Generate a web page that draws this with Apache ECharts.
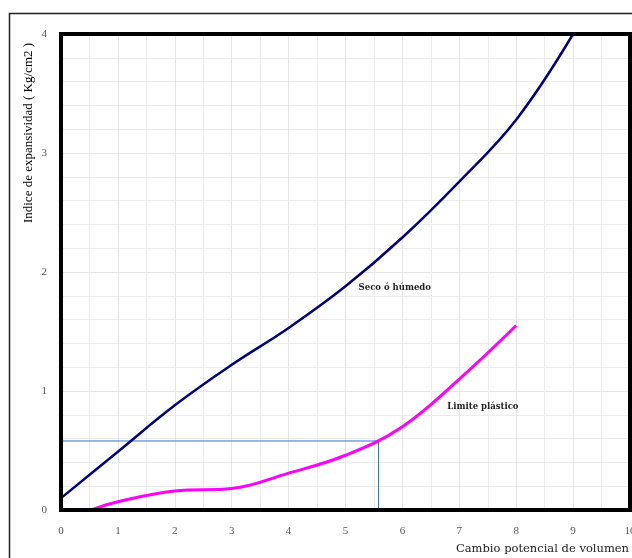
<!DOCTYPE html>
<html><head><meta charset="utf-8">
<script src="https://cdn.jsdelivr.net/npm/echarts@6/dist/echarts.min.js"></script>
<style>html,body{margin:0;padding:0;background:#fff}#c{width:632px;height:558px}</style>
</head><body><div id="c"></div>
<script>
const xTicks = [0,1,2,3,4,5,6,7,8,9,10];
const yTicks = [0,1,2,3,4];
const secoX = [0, 1, 2, 3, 4, 5, 6, 7, 8, 9];
const secoY = [0.10, 0.49, 0.88, 1.22, 1.53, 1.88, 2.29, 2.76, 3.28, 4.00];
const limX = [0.53, 1, 2, 3, 4, 5, 6, 7, 8];
const limY = [0.00, 0.07, 0.16, 0.18, 0.31, 0.46, 0.70, 1.10, 1.55];
const refX = [-0.07, 5.58, 5.58];
const refY = [0.58, 0.58, 0];
const labelSeco = {text: 'Seco ó húmedo', x: 5.23, y: 1.87};
const labelLim = {text: 'Limite plástico', x: 6.79, y: 0.87};

const pairs = (xs, ys) => xs.map((x, i) => [x, ys[i]]);
const chart = echarts.init(document.getElementById('c'));
const serif = 'Liberation Serif';
chart.setOption({
  backgroundColor: '#fff',
  animation: false,
  grid: {left: 61, top: 34, right: 2, bottom: 48, outerBoundsMode: 'none', containLabel: false, show: true, borderColor: '#000', borderWidth: 4, backgroundColor: 'transparent', z: 5},
  xAxis: {
    type: 'value', min: 0, max: 10, interval: 1,
    axisLine: {show: false}, axisTick: {show: false},
    axisLabel: {color: '#555', fontFamily: serif, fontSize: 11, margin: 16, formatter: v => xTicks.includes(v) ? String(v) : ''},
    splitLine: {show: true, lineStyle: {color: '#e6e6e6', width: 1}},
    minorTick: {show: false, splitNumber: 2},
    minorSplitLine: {show: true, lineStyle: {color: '#ececec', width: 1}}
  },
  yAxis: {
    type: 'value', min: 0, max: 4, interval: 1,
    axisLine: {show: false}, axisTick: {show: false},
    axisLabel: {color: '#555', fontFamily: serif, fontSize: 11, margin: 14, formatter: v => yTicks.includes(v) ? String(v) : ''},
    splitLine: {show: true, lineStyle: {color: '#e6e6e6', width: 1}},
    minorTick: {show: false, splitNumber: 5},
    minorSplitLine: {show: true, lineStyle: {color: '#ececec', width: 1}}
  },
  graphic: [
    {type: 'rect', shape: {x: 9.5, y: 13.5, width: 700, height: 700}, style: {fill: 'none', stroke: '#222', lineWidth: 1.5}, z: 0},
    {type: 'text', x: 29, y: 133, rotation: Math.PI / 2, style: {text: 'Indice de expansividad ( Kg/cm2 )', font: '13px "Liberation Serif"', fill: '#000', textAlign: 'center', textVerticalAlign: 'middle'}},
    {type: 'text', x: 629, y: 549, style: {text: 'Cambio potencial de volumen', font: '11.5px "DejaVu Serif"', fill: '#222', textAlign: 'right', textVerticalAlign: 'middle'}}
  ],
  series: [
    {type: 'line', data: pairs(refX, refY), showSymbol: false, clip: false, lineStyle: {color: '#3b6fd6', width: 1}, z: 2},
    {type: 'line', data: pairs(secoX, secoY), smooth: 0.4, showSymbol: false, lineStyle: {color: '#000080', width: 2.5}, z: 3,
     markPoint: {symbolSize: 0, data: [{coord: [labelSeco.x, labelSeco.y], value: labelSeco.text}],
       label: {show: true, position: 'right', distance: 0, formatter: labelSeco.text, fontFamily: 'DejaVu Serif', fontSize: 8.5, fontWeight: 'bold', color: '#222'}}},
    {type: 'line', data: pairs(limX, limY), smooth: 0.4, showSymbol: false, lineStyle: {color: '#ff00ff', width: 3}, z: 3,
     markPoint: {symbolSize: 0, data: [{coord: [labelLim.x, labelLim.y], value: labelLim.text}],
       label: {show: true, position: 'right', distance: 0, formatter: labelLim.text, fontFamily: 'DejaVu Serif', fontSize: 8.5, fontWeight: 'bold', color: '#222'}}}
  ]
});
</script></body></html>
